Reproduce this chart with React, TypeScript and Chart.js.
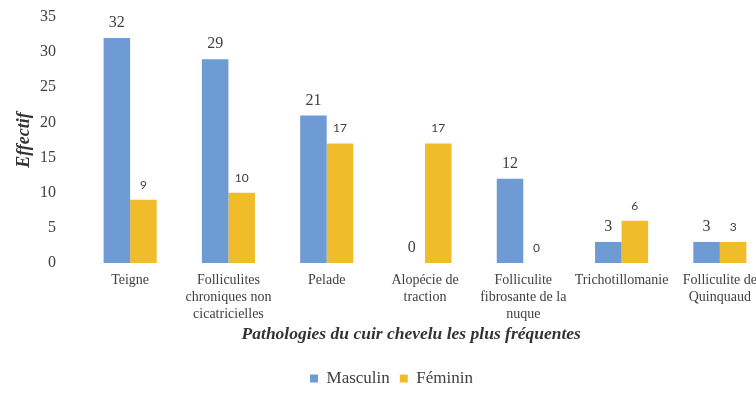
import React, { useEffect, useRef } from "react";
import { Chart, registerables } from "chart.js";

Chart.register(...registerables);

const categories: (string | string[])[] = [
  "Teigne",
  ["Folliculites", "chroniques non", "cicatricielles"],
  "Pelade",
  ["Alopécie de", "traction"],
  ["Folliculite", "fibrosante de la", "nuque"],
  "Trichotillomanie",
  ["Folliculite de", "Quinquaud"],
];
const masculin = [32, 29, 21, 0, 12, 3, 3];
const feminin = [9, 10, 17, 17, 0, 6, 3];
const yTicksMax = 35;
const yStep = 5;
const xTitle = "Pathologies du cuir chevelu les plus fréquentes";

const BLUE = "#6f9bd4";
const YELLOW = "#f0bc2a";
const TEXT = "#404040";
const SERIF = "'Liberation Serif', 'Times New Roman', serif";

const valueLabels = {
  id: "valueLabels",
  afterDatasetsDraw(chart: any) {
    const ctx = chart.ctx;
    chart.data.datasets.forEach((ds: any, di: number) => {
      const meta = chart.getDatasetMeta(di);
      ctx.save();
      ctx.fillStyle = TEXT;
      ctx.textAlign = "center";
      ctx.textBaseline = "middle";
      ctx.font = di === 0 ? `16px ${SERIF}` : `12px Lato, 'Open Sans', sans-serif`;
      meta.data.forEach((el: any, i: number) => {
        ctx.fillText(String(ds.data[i]), el.x, el.y - 15);
      });
      ctx.restore();
    });
  },
};

// Draws the x-axis title slightly left of the scale centre, as in the reference
const shiftedXTitle = {
  id: "shiftedXTitle",
  afterDraw(chart: any) {
    const s = chart.scales.x;
    const ctx = chart.ctx;
    ctx.save();
    ctx.fillStyle = "#333333";
    ctx.textAlign = "center";
    ctx.textBaseline = "middle";
    ctx.font = `italic bold 17.5px ${SERIF}`;
    ctx.fillText(xTitle, s.left + s.width * 0.48, s.bottom - 15 - 10.5);
    ctx.restore();
  },
};

export default function App() {
  const ref = useRef<HTMLCanvasElement>(null);
  useEffect(() => {
    if (!ref.current) return;
    const chart = new Chart(ref.current, {
      type: "bar",
      data: {
        labels: categories,
        datasets: [
          { label: "Masculin", data: masculin, backgroundColor: BLUE },
          { label: "Féminin", data: feminin, backgroundColor: YELLOW },
        ],
      },
      options: {
        responsive: false,
        animation: false,
        layout: { padding: { left: 14, right: 11, top: 17, bottom: 3 } },
        datasets: { bar: { categoryPercentage: 0.54, barPercentage: 1.0 } },
        scales: {
          x: {
            grid: { display: false, drawTicks: false },
            border: { display: false },
            afterFit: (s: any) => {
              s.height = 97;
            },
            ticks: {
              color: TEXT,
              font: { family: SERIF, size: 14, lineHeight: 1.2 },
              padding: 9,
              maxRotation: 0,
              autoSkip: false,
            },
            title: { display: false },
          },
          y: {
            min: 0,
            max: yTicksMax,
            grid: { display: false, drawTicks: false },
            border: { display: false },
            afterFit: (s: any) => {
              s.width = 67;
              s.paddingTop = 0;
              s.paddingBottom = 0;
            },
            ticks: {
              stepSize: yStep,
              color: TEXT,
              font: { family: SERIF, size: 16 },
              padding: 25,
            },
            title: {
              display: true,
              text: "Effectif",
              color: "#333333",
              font: { family: SERIF, size: 18, weight: "bold", style: "italic" },
              padding: { top: 0, bottom: 4 },
            },
          },
        },
        plugins: {
          legend: {
            position: "bottom",
            labels: {
              boxWidth: 8,
              boxHeight: 8,
              padding: 10,
              color: TEXT,
              font: { family: SERIF, size: 17 },
            },
          },
          tooltip: { enabled: false },
        },
      },
      plugins: [valueLabels, shiftedXTitle],
    });
    return () => chart.destroy();
  }, []);
  return (
    <div
      style={{
        position: "fixed",
        left: 0,
        top: 0,
        width: 756,
        height: 400,
        overflow: "hidden",
        background: "#ffffff",
      }}
    >
      <canvas ref={ref} width={780} height={400} style={{ display: "block" }} />
    </div>
  );
}
